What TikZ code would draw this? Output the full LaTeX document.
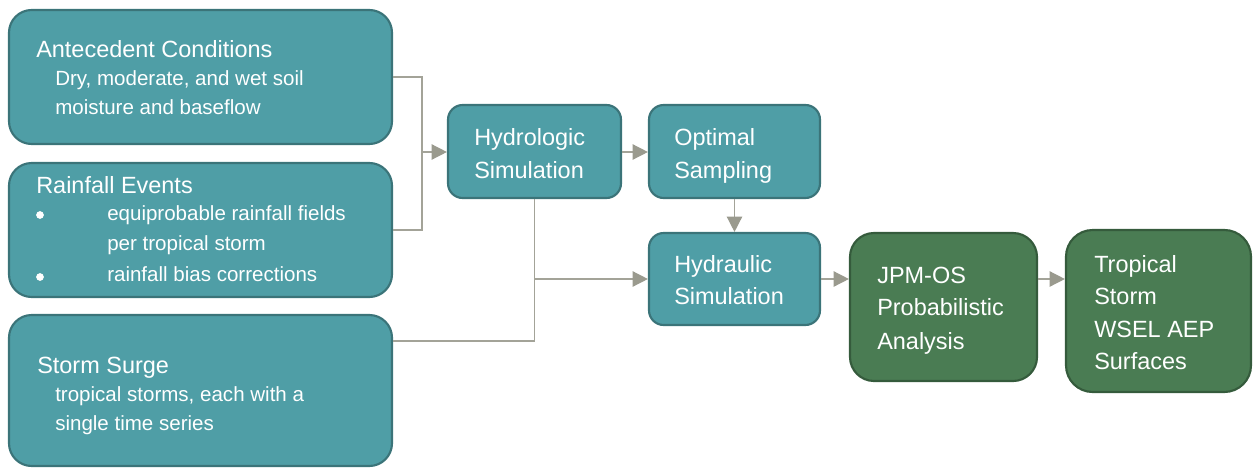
\documentclass[tikz,border=0pt]{standalone}
\usepackage{fontspec}
\setmainfont{Liberation Sans}
\usetikzlibrary{fit,calc,arrows.meta}
\definecolor{tealfill}{HTML}{4F9EA6}
\definecolor{tealedge}{HTML}{3B7479}
\definecolor{greenfill}{HTML}{4A7C53}
\definecolor{greenedge}{HTML}{355B3C}
\definecolor{connc}{HTML}{A3A398}
\definecolor{tipc}{HTML}{9A9A8E}
\tikzset{
  tealbox/.style={draw=tealedge, fill=tealfill, line width=1.6pt, inner sep=0pt, rounded corners=#1},
  greenbox/.style={draw=greenedge, fill=greenfill, line width=1.6pt, inner sep=0pt, rounded corners=#1},
  ttl/.style={anchor=base west, inner sep=0pt, text=white, font=\fontsize{17.6}{24.75}\selectfont},
  sub/.style={anchor=base west, inner sep=0pt, text=white, font=\fontsize{15.4}{21.75}\selectfont},
  dotb/.style={circle, fill=white, inner sep=0pt, minimum size=5.8pt},
  conn/.style={draw=connc, line width=1.1pt},
  arr/.style={conn, -{Triangle[length=11.5pt,width=11.5pt,fill=tipc,color=tipc]}}
}
\begin{document}
\begin{tikzpicture}[x=0.75pt,y=-0.75pt]
\useasboundingbox (0,0) rectangle (1253,468);
% boxes
\node[tealbox=17pt, fit={(9,10)(392,144)}] (ante) {};
\node[tealbox=17pt, fit={(9,163)(392,297)}] (rain) {};
\node[tealbox=17pt, fit={(9,315)(392,466)}] (surge) {};
\node[tealbox=11pt, fit={(448,105)(621,198)}] (hydro) {};
\node[tealbox=11pt, fit={(649,105)(820,198)}] (opt) {};
\node[tealbox=11pt, fit={(649,233)(820,325)}] (hydra) {};
\node[greenbox=18pt, fit={(850,233)(1037,381)}] (jpm) {};
\node[greenbox=20pt, fit={(1066,230)(1251,392)}] (trop) {};
% texts
\node[ttl] (t1) at (36,57) {Antecedent Conditions};
\node[sub] (t1a) at (55,85) {Dry, moderate, and wet soil};
\node[sub] (t1b) at (55,114) {moisture and baseflow};
\node[ttl] (t2) at (36,193) {Rainfall Events};
\node[dotb] (b1) at (40,215) {};
\node[sub] (t2a) at (107,220) {equiprobable rainfall fields};
\node[sub] (t2b) at (107,250) {per tropical storm};
\node[dotb] (b2) at (40,277) {};
\node[sub] (t2c) at (107,281) {rainfall bias corrections};
\node[ttl] (t3) at (37,373) {Storm Surge};
\node[sub] (t3a) at (55,401) {tropical storms, each with a};
\node[sub] (t3b) at (55,430) {single time series};
\node[ttl] (t4) at (474,145) {Hydrologic};
\node[ttl] (t4b) at (474,178) {Simulation};
\node[ttl] (t5) at (674,145) {Optimal};
\node[ttl] (t5b) at (674,178) {Sampling};
\node[ttl] (t6) at (674,272) {Hydraulic};
\node[ttl] (t6b) at (674,304) {Simulation};
\node[ttl] (t7) at (877,283) {JPM-OS};
\node[ttl] (t7b) at (877,315) {Probabilistic};
\node[ttl] (t7c) at (877,349) {Analysis};
\node[ttl] (t8) at (1094,272) {Tropical};
\node[ttl] (t8b) at (1094,304) {Storm};
\node[ttl] (t8c) at (1094,337) {WSEL AEP};
\node[ttl] (t8d) at (1094,369) {Surfaces};
% connectors
\coordinate (j1) at (422,152);
\coordinate (s1) at ($(surge.north east)+(0,27)$);
\draw[conn] (ante.east) -| (j1);
\draw[conn] (rain.east) -| (j1);
\draw[arr] (j1) -- (j1 -| hydro.west);
\draw[arr] (hydro.east |- j1) -- (opt.west |- j1);
\draw[arr] (opt.south) -- (hydra.north);
\draw[conn] (hydro.south) -- (hydro.south |- s1);
\draw[conn] (s1) -- (hydro.south |- s1);
\draw[arr] (hydro.south |- hydra.west) -- (hydra.west);
\draw[arr] (hydra.east) -- (hydra.east -| jpm.west);
\draw[arr] (hydra.east -| jpm.east) -- (hydra.east -| trop.west);
\end{tikzpicture}
\end{document}
